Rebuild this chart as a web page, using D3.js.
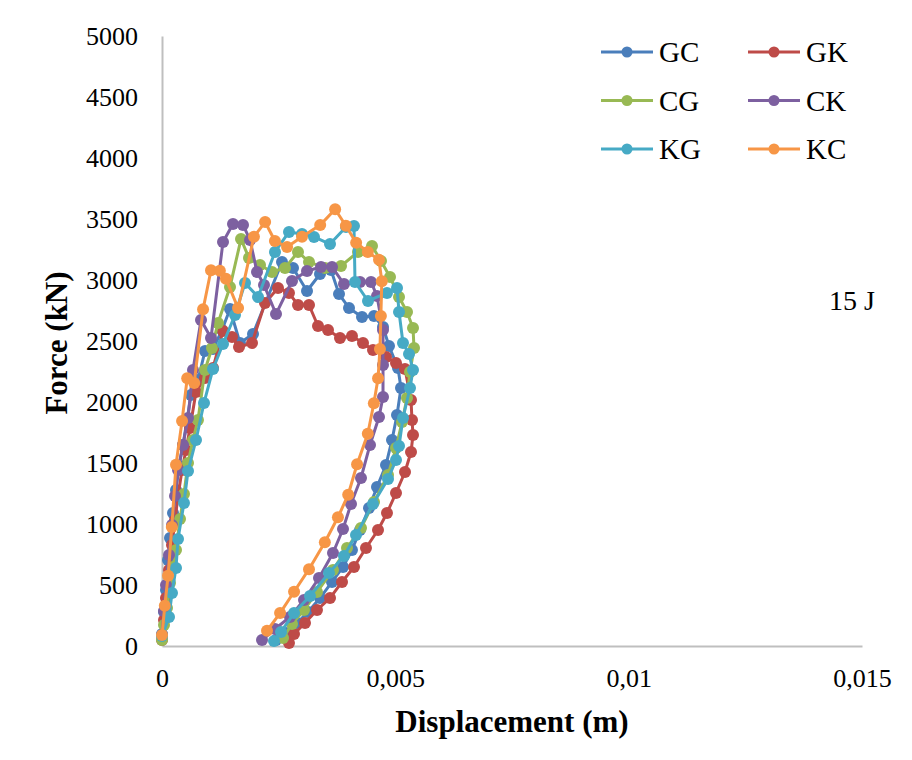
<!DOCTYPE html>
<html>
<head>
<meta charset="utf-8">
<script src="https://cdn.jsdelivr.net/npm/d3@7"></script>
<style>
  html, body { margin: 0; padding: 0; background: #ffffff; }
  svg { display: block; }
  text { font-family: "Liberation Serif", "Times New Roman", serif; fill: #000; }
</style>
</head>
<body>
<svg id="chart" width="912" height="760"></svg>
<script>
// Force–displacement curves at 15 J impact energy, [displacement (m), force (kN)]
const GC = [[0,98],[0.000043,279],[0.000086,459],[0.000129,705],[0.000171,885],[0.000236,1090],[0.0003,1279],[0.000364,1475],[0.00045,1648],[0.000536,1853],[0.000621,2057],[0.000771,2180],[0.000921,2418],[0.001093,2435],[0.001286,2590],[0.001457,2762],[0.001671,2484],[0.00195,2557],[0.002571,3148],[0.002807,3098],[0.003107,2910],[0.003386,3049],[0.003621,3082],[0.003793,2885],[0.004007,2771],[0.004286,2697],[0.004543,2705],[0.004736,2615],[0.004864,2459],[0.005057,2279],[0.005121,2115],[0.005036,1894],[0.004929,1689],[0.0048,1484],[0.004607,1303],[0.004436,1131],[0.004243,951],[0.004071,787],[0.003879,648],[0.003643,525],[0.003386,393],[0.003129,279],[0.002893,189],[0.002657,107],[0.002443,49]];

const GK = [[0,49],[0.000043,213],[0.000086,393],[0.00015,623],[0.000214,828],[0.000279,1033],[0.000343,1230],[0.000429,1443],[0.000514,1607],[0.0006,1787],[0.000729,2082],[0.000921,2197],[0.001093,2279],[0.001307,2582],[0.0015,2533],[0.00165,2451],[0.001929,2484],[0.002207,2812],[0.002486,2935],[0.002721,2894],[0.002914,2795],[0.00315,2795],[0.003343,2623],[0.003557,2590],[0.003814,2525],[0.004071,2541],[0.004307,2484],[0.004521,2426],[0.0048,2369],[0.005014,2320],[0.005207,2271],[0.005336,2016],[0.005357,1853],[0.005379,1730],[0.005336,1590],[0.005207,1426],[0.005014,1254],[0.004821,1090],[0.004629,951],[0.004371,803],[0.004114,648],[0.003857,525],[0.0036,393],[0.003321,295],[0.003064,189],[0.002829,98],[0.002721,25]];

const CG = [[0,49],[0.000043,172],[0.000107,311],[0.000171,516],[0.000236,648],[0.0003,787],[0.000386,1041],[0.000471,1246],[0.000557,1500],[0.000664,1689],[0.000771,1853],[0.000921,2262],[0.001071,2443],[0.0012,2648],[0.001457,2943],[0.001693,3336],[0.001864,3180],[0.0021,3123],[0.002357,3066],[0.002636,3098],[0.002914,3230],[0.00315,3148],[0.003493,3098],[0.003836,3115],[0.0042,3230],[0.0045,3279],[0.004693,3156],[0.004886,3025],[0.005079,2861],[0.00525,2738],[0.005379,2607],[0.0054,2443],[0.005314,2246],[0.00525,2033],[0.005143,1836],[0.005014,1623],[0.004843,1402],[0.004543,1180],[0.004264,967],[0.003964,803],[0.003664,623],[0.003321,443],[0.003043,295],[0.002786,180],[0.002593,66]];

const CK = [[0,90],[0.000043,287],[0.000086,500],[0.00015,746],[0.000214,992],[0.000279,1230],[0.000343,1443],[0.00045,1648],[0.000557,1869],[0.000664,2262],[0.000836,2672],[0.00105,2525],[0.001307,3312],[0.001521,3459],[0.001736,3451],[0.001886,3328],[0.002036,3066],[0.002186,2959],[0.002443,2721],[0.002786,2992],[0.003107,3074],[0.003407,3107],[0.003643,3107],[0.0039,2967],[0.004243,2984],[0.004479,2984],[0.004607,2869],[0.004736,2590],[0.004736,2303],[0.004736,2041],[0.00465,1877],[0.004457,1648],[0.004264,1377],[0.00405,1164],[0.003879,959],[0.003664,762],[0.003364,557],[0.003043,377],[0.002743,238],[0.002421,139],[0.002143,49]];

const KG = [[0,82],[0.00015,238],[0.000214,434],[0.0003,639],[0.000343,877],[0.000471,1172],[0.000557,1434],[0.000729,1689],[0.0009,1992],[0.001093,2271],[0.001307,2475],[0.001564,2713],[0.001779,2976],[0.002057,2861],[0.002421,3230],[0.002721,3394],[0.003,3377],[0.003257,3353],[0.0036,3295],[0.003943,3435],[0.004114,3443],[0.004136,2984],[0.004414,2828],[0.004821,2894],[0.005036,2935],[0.005079,2738],[0.005164,2484],[0.005293,2394],[0.005379,2262],[0.005314,2115],[0.005164,1869],[0.005079,1639],[0.005014,1525],[0.004843,1369],[0.004521,1164],[0.004157,910],[0.0039,738],[0.003579,598],[0.003171,410],[0.002829,270],[0.00255,115],[0.0024,41]];

const KC = [[0,90],[0.00006,330],[0.00013,575],[0.00021,975],[0.0003,1485],[0.00043,1845],[0.00054,2195],[0.00069,2155],[0.00088,2760],[0.00105,3080],[0.00124,3075],[0.00137,3010],[0.00163,2770],[0.00197,3355],[0.00221,3475],[0.00242,3320],[0.00268,3270],[0.003,3355],[0.00339,3450],[0.00371,3580],[0.00394,3445],[0.00416,3305],[0.00441,3230],[0.00465,3165],[0.00471,2990],[0.00469,2705],[0.00467,2435],[0.00463,2195],[0.00454,1990],[0.00441,1740],[0.00418,1490],[0.00399,1240],[0.00377,1055],[0.00349,850],[0.00315,630],[0.00283,445],[0.00253,270],[0.00225,125]];

const seriesNames = ["GC", "GK", "CG", "CK", "KG", "KC"];
const seriesData = [GC, GK, CG, CK, KG, KC];
const seriesColors = ["#4a7ebb", "#be4b48", "#98b954", "#7d60a0", "#46aac5", "#f79646"];

const xTicks = [0, 0.005, 0.01, 0.015];
const xTickLabels = ["0", "0,005", "0,01", "0,015"];
const yTicks = [0, 500, 1000, 1500, 2000, 2500, 3000, 3500, 4000, 4500, 5000];

const energyLabel = "15 J";
const xTitle = "Displacement (m)";
const yTitle = "Force (kN)";

const svg = d3.select("#chart");
const plot = { left: 162, right: 862, top: 36, bottom: 646 };

const x = d3.scaleLinear().domain([0, 0.015]).range([plot.left, plot.right]);
const y = d3.scaleLinear().domain([0, 5000]).range([plot.bottom, plot.top]);

// Axes: plain grey baselines, no tick marks
const xAxis = d3.axisBottom(x)
  .tickValues(xTicks)
  .tickFormat((d, i) => xTickLabels[i])
  .tickSize(0)
  .tickPadding(23);
const gx = svg.append("g").attr("transform", `translate(0,${plot.bottom})`).call(xAxis);
gx.select(".domain").attr("stroke", "#bfbfbf").attr("stroke-width", 2);
gx.selectAll("text").attr("font-size", 26).attr("font-family", "Liberation Serif").attr("fill", "#000");

const yAxis = d3.axisLeft(y)
  .tickValues(yTicks)
  .tickFormat(d3.format("d"))
  .tickSize(0)
  .tickPadding(24);
const gy = svg.append("g").attr("transform", `translate(${plot.left},0)`).call(yAxis);
gy.select(".domain").attr("stroke", "#bfbfbf").attr("stroke-width", 2);
gy.selectAll("text").attr("font-size", 26).attr("font-family", "Liberation Serif").attr("fill", "#000");

// Axis titles
svg.append("text")
  .attr("x", 512)
  .attr("y", 732)
  .attr("text-anchor", "middle")
  .attr("font-size", 31)
  .attr("font-weight", "bold")
  .text(xTitle);

svg.append("text")
  .attr("transform", `translate(67,${(plot.top + plot.bottom) / 2 + 2}) rotate(-90)`)
  .attr("text-anchor", "middle")
  .attr("font-size", 31)
  .attr("font-weight", "bold")
  .text(yTitle);

// Curves with round markers
const line = d3.line().x(d => x(d[0])).y(d => y(d[1]));
seriesData.forEach((data, i) => {
  const g = svg.append("g").attr("class", "series-" + seriesNames[i]);
  g.append("path")
    .datum(data)
    .attr("fill", "none")
    .attr("stroke", seriesColors[i])
    .attr("stroke-width", 3)
    .attr("stroke-linejoin", "round")
    .attr("d", line);
  g.selectAll("circle")
    .data(data)
    .join("circle")
    .attr("cx", d => x(d[0]))
    .attr("cy", d => y(d[1]))
    .attr("r", 6)
    .attr("fill", seriesColors[i]);
});

// Legend, two columns
const legend = svg.append("g");
seriesNames.forEach((name, i) => {
  const col = i % 2, row = Math.floor(i / 2);
  const lx = 601 + col * 147;
  const ly = 52 + row * 48.5;
  const item = legend.append("g").attr("transform", `translate(${lx},${ly})`);
  item.append("line")
    .attr("x1", 0).attr("x2", 52).attr("y1", 0).attr("y2", 0)
    .attr("stroke", seriesColors[i]).attr("stroke-width", 3);
  item.append("circle").attr("cx", 26).attr("cy", 0).attr("r", 5.5).attr("fill", seriesColors[i]);
  item.append("text")
    .attr("x", 58).attr("y", 0).attr("dy", "0.35em")
    .attr("font-size", 29)
    .text(name);
});

// Impact energy annotation
svg.append("text")
  .attr("x", 829).attr("y", 300).attr("dy", "0.35em")
  .attr("font-size", 28)
  .text(energyLabel);
</script>
</body>
</html>
